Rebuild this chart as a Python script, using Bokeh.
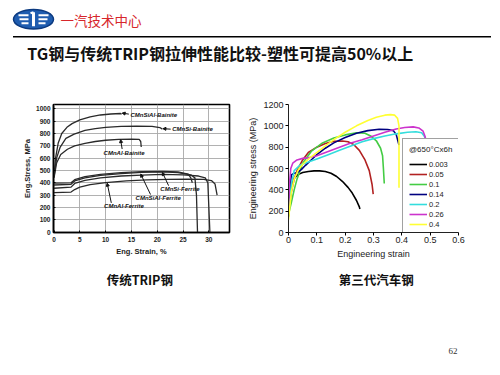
from bokeh.plotting import figure
from bokeh.layouts import column, row
from bokeh.models import Range1d, Legend, LegendItem, Arrow, NormalHead, Label, FixedTicker
from bokeh.embed import file_html
from bokeh.resources import INLINE

# ---------------- data: left chart (conventional TRIP steels) ----------------
sial_bain_x = [0, 0.3, 0.8, 1.5, 2.5, 3.5, 5, 7, 9, 11, 12.9, 13.1]
sial_bain_y = [450, 600, 720, 800, 850, 880, 910, 935, 950, 958, 962, 955]
si_bain_x = [0, 0.5, 1.2, 2.3, 3.9, 6, 8, 10, 13, 16, 19, 20.5, 21]
si_bain_y = [450, 600, 690, 760, 795, 825, 840, 850, 858, 860, 858, 848, 835]
al_bain_x = [0, 0.5, 1.3, 2.6, 4, 6, 8, 10, 12.5, 15, 16.5, 16.8, 16.9]
al_bain_y = [440, 560, 630, 672, 700, 720, 735, 745, 752, 755, 752, 735, 690]
si_fer_x = [0, 3.3, 4, 6, 9, 13, 17, 21, 24, 26, 26.5, 26.8]
si_fer_y = [397, 400, 425, 450, 468, 482, 490, 492, 488, 470, 440, 400]
sial_fer_x = [0, 3.3, 4, 6, 9, 13, 17, 21, 24, 26.5, 27.3, 27.6, 27.8]
sial_fer_y = [382, 388, 415, 440, 460, 475, 484, 488, 483, 465, 440, 300, 0]
mid_fer_x = [0, 3.3, 4, 6, 9, 13, 17, 21, 25, 28, 29.3, 29.8, 30.2]
mid_fer_y = [356, 365, 395, 420, 440, 455, 463, 468, 465, 455, 440, 400, 0]
al_fer_x = [0, 3.3, 4, 5, 7, 10, 14, 18, 22, 26, 29, 30.5, 31.2, 31.6]
al_fer_y = [321, 325, 345, 365, 385, 402, 415, 423, 428, 430, 427, 418, 390, 300]
left_series = [(sial_bain_x, sial_bain_y), (si_bain_x, si_bain_y), (al_bain_x, al_bain_y),
               (si_fer_x, si_fer_y), (sial_fer_x, sial_fer_y), (mid_fer_x, mid_fer_y),
               (al_fer_x, al_fer_y)]
left_xticks = [0, 5, 10, 15, 20, 25, 30]
left_yticks = [0, 100, 200, 300, 400, 500, 600, 700, 800, 900, 1000]

# ---------------- data: right chart (3rd generation steel) ----------------
labels = ["0.003", "0.05", "0.1", "0.14", "0.2", "0.26", "0.4"]
colors = ["#000000", "#b22222", "#44cc44", "#000080", "#33dddd", "#cc33cc", "#ffff33"]
c003_x = [0, 0.005, 0.01, 0.02, 0.035, 0.05, 0.07, 0.09, 0.11, 0.13, 0.15, 0.17, 0.19, 0.21, 0.225, 0.24, 0.25, 0.252]
c003_y = [150, 320, 440, 510, 545, 562, 572, 578, 578, 572, 555, 525, 480, 423, 370, 300, 240, 220]
c005_x = [0, 0.005, 0.01, 0.02, 0.03, 0.05, 0.07, 0.1, 0.13, 0.16, 0.19, 0.21, 0.23, 0.25, 0.27, 0.285, 0.295, 0.299]
c005_y = [180, 280, 380, 500, 580, 680, 750, 800, 835, 855, 858, 850, 825, 770, 680, 580, 450, 360]
c01_x = [0, 0.01, 0.02, 0.03, 0.05, 0.08, 0.12, 0.16, 0.2, 0.24, 0.27, 0.29, 0.31, 0.325, 0.332, 0.335, 0.338]
c01_y = [170, 280, 400, 500, 650, 760, 840, 885, 915, 935, 930, 905, 860, 790, 720, 600, 460]
c014_x = [0, 0.005, 0.01, 0.02, 0.03, 0.045, 0.06, 0.08, 0.1, 0.13, 0.16, 0.2, 0.24, 0.28, 0.32, 0.35, 0.37, 0.38, 0.39]
c014_y = [180, 400, 540, 555, 560, 590, 630, 680, 730, 790, 840, 890, 930, 955, 968, 965, 955, 920, 820]
c02_x = [0, 0.005, 0.01, 0.02, 0.04, 0.07, 0.1, 0.14, 0.18, 0.22, 0.26, 0.3, 0.34, 0.38, 0.42, 0.45, 0.47, 0.48, 0.485]
c02_y = [150, 300, 450, 580, 630, 660, 690, 730, 770, 810, 850, 880, 905, 925, 940, 945, 935, 900, 860]
c026_x = [0, 0.003, 0.008, 0.015, 0.03, 0.05, 0.07, 0.1, 0.14, 0.18, 0.22, 0.26, 0.3, 0.34, 0.38, 0.41, 0.44, 0.46, 0.475, 0.482, 0.485]
c026_y = [170, 450, 600, 650, 680, 695, 700, 720, 760, 800, 840, 870, 905, 940, 970, 985, 990, 980, 950, 900, 860]
c04_x = [0, 0.005, 0.01, 0.02, 0.035, 0.05, 0.08, 0.12, 0.16, 0.2, 0.24, 0.28, 0.31, 0.34, 0.36, 0.375, 0.385, 0.39, 0.39]
c04_y = [120, 250, 380, 500, 590, 640, 710, 790, 870, 940, 1000, 1050, 1080, 1100, 1105, 1100, 1070, 1000, 420]
right_series = [(c003_x, c003_y), (c005_x, c005_y), (c01_x, c01_y), (c014_x, c014_y),
                (c02_x, c02_y), (c026_x, c026_y), (c04_x, c04_y)]
right_xticks = [0, 0.1, 0.2, 0.3, 0.4, 0.5, 0.6]
right_yticks = [0, 200, 400, 600, 800, 1000, 1200]

SANS = "Liberation Sans"
CJK = "Noto Sans CJK SC"


def blank(w, h):
    f = figure(width=w, height=h, x_range=Range1d(0, w), y_range=Range1d(h, 0),
               output_backend="svg", toolbar_location=None, min_border=0,
               x_axis_location=None, y_axis_location=None)
    f.grid.visible = False
    f.outline_line_color = None
    f.background_fill_color = "white"
    f.border_fill_color = "white"
    return f


# ---------------- header (500 x 88) ----------------
hdr = blank(500, 88)
cx, cy = 33, 18.8
hdr.ellipse(x=[cx], y=[cy], width=40, height=19.5, fill_color="#1f5db0",
            line_color="#0c3a80", line_width=1.5)
hdr.segment(x0=[cx - 15, cx - 14, cx - 12, cx + 5, cx + 5, cx + 5],
            y0=[cy - 4, cy, cy + 4, cy - 4, cy, cy + 4],
            x1=[cx - 5, cx - 5, cx - 5, cx + 15, cx + 14, cx + 12],
            y1=[cy - 4, cy, cy + 4, cy - 4, cy, cy + 4],
            line_color="white", line_width=2)
hdr.segment(x0=[cx], y0=[cy - 7], x1=[cx], y1=[cy + 7], line_color="white", line_width=3)
hdr.segment(x0=[cx - 3], y0=[cy - 6], x1=[cx], y1=[cy - 7], line_color="white", line_width=2)
hdr.add_layout(Label(x=60, y=19.5, text="一汽技术中心", text_font=CJK, text_font_size="13.5px",
                     text_color="#d7262b", text_baseline="middle"))
hdr.segment(x0=[12.5], y0=[36.3], x1=[490.5], y1=[36.3], line_color="black", line_width=1.5)
hdr.add_layout(Label(x=26.7, y=52.5, text="TG钢与传统TRIP钢拉伸性能比较-塑性可提高50%以上",
                     text_font=CJK, text_font_size="16px", text_font_style="bold",
                     text_color="#111111", text_baseline="middle"))

# ---------------- left chart (245 x 176) ----------------
lp = figure(width=245, height=176, x_range=Range1d(-0.1, 34), y_range=Range1d(-3, 1035),
            output_backend="svg", toolbar_location=None,
            min_border_left=53, min_border_right=16, min_border_top=9, min_border_bottom=31)
lp.background_fill_color = "white"
lp.border_fill_color = "white"
lp.outline_line_color = "black"
lp.outline_line_width = 1.6
lp.xaxis.ticker = FixedTicker(ticks=left_xticks)
lp.yaxis.ticker = FixedTicker(ticks=left_yticks)
lp.grid.grid_line_color = "#a8a8a8"
lp.grid.grid_line_width = 0.9
for ax in (lp.xaxis[0], lp.yaxis[0]):
    ax.axis_line_color = "black"
    ax.axis_line_width = 1.5
    ax.major_tick_in = 2
    ax.major_tick_out = 0
    ax.minor_tick_line_color = None
    ax.major_label_text_font = SANS
    ax.major_label_text_font_size = "6.5px"
    ax.major_label_text_font_style = "bold"
    ax.major_label_text_color = "#222222"
    ax.axis_label_text_font = SANS
    ax.axis_label_text_font_size = "7.5px"
    ax.axis_label_text_font_style = "bold"
    ax.axis_label_text_color = "#222222"
lp.xaxis.axis_label = "Eng. Strain, %"
lp.yaxis.axis_label = "Eng.Stress, MPa"
lp.xaxis.major_label_standoff = 4
lp.xaxis.axis_label_standoff = 2
lp.yaxis.major_label_standoff = 3
lp.yaxis.axis_label_standoff = 1
for xs, ys in left_series:
    lp.line(xs, ys, line_color="#2a2a2a", line_width=1.3)

ann_font = dict(text_font=SANS, text_font_size="6px", text_font_style="bold italic",
                text_color="#111111", text_baseline="middle")
lp.add_layout(Label(x=14.8, y=949, text="CMnSiAl-Bainite", **ann_font))
lp.add_layout(Label(x=22.9, y=835, text="CMnSi-Bainite", **ann_font))
lp.add_layout(Label(x=9.6, y=644, text="CMnAl-Bainite", **ann_font))
lp.add_layout(Label(x=20.6, y=351, text="CMnSi-Ferrite", **ann_font))
lp.add_layout(Label(x=15.8, y=275, text="CMnSiAl-Ferrite", **ann_font))
lp.add_layout(Label(x=9.7, y=211, text="CMnAl-Ferrite", **ann_font))
for (x0, y0, x1, y1) in [(14.5, 957, 13.2, 965), (22.6, 835, 21.1, 839), (13.2, 674, 12.9, 750),
                         (22.2, 377, 21.0, 484), (18.7, 305, 16.8, 471), (11.1, 237, 10.3, 397)]:
    lp.add_layout(Arrow(x_start=x0, y_start=y0, x_end=x1, y_end=y1, line_color="#111111",
                        line_width=1, end=NormalHead(size=3, fill_color="#111111",
                                                     line_color="#111111")))

# ---------------- right chart (255 x 176) ----------------
rp = figure(width=255, height=176, x_range=Range1d(0, 0.6), y_range=Range1d(0, 1200),
            output_backend="svg", toolbar_location=None,
            min_border_left=42, min_border_right=42, min_border_top=16, min_border_bottom=32)
rp.background_fill_color = "white"
rp.border_fill_color = "white"
rp.outline_line_color = None
rp.grid.visible = False
rp.xaxis.ticker = FixedTicker(ticks=right_xticks)
rp.yaxis.ticker = FixedTicker(ticks=right_yticks)
for ax in (rp.xaxis[0], rp.yaxis[0]):
    ax.axis_line_color = "#222222"
    ax.axis_line_width = 1
    ax.major_tick_in = 0
    ax.major_tick_out = 3
    ax.minor_tick_line_color = None
    ax.major_label_text_font = SANS
    ax.major_label_text_font_size = "9px"
    ax.major_label_text_color = "#222222"
    ax.axis_label_text_font = SANS
    ax.axis_label_text_font_size = "9px"
    ax.axis_label_text_font_style = "normal"
    ax.axis_label_text_color = "#222222"
rp.xaxis.axis_label = "Engineering strain"
rp.yaxis.axis_label = "Engineering stress (MPa)"
rp.xaxis.major_label_standoff = 1
rp.xaxis.axis_label_standoff = 3
rp.yaxis.major_label_standoff = 2
rp.yaxis.axis_label_standoff = 2

items = []
for (xs, ys), lab, col in zip(right_series, labels, colors):
    r = rp.line(xs, ys, line_color=col, line_width=1.6)
    items.append(LegendItem(label=lab, renderers=[r]))

leg = Legend(items=items, title="@650°Cx6h", location=(114, -4),
             label_text_font=SANS, label_text_font_size="7.5px", label_text_color="#222222",
             title_text_font=SANS, title_text_font_size="8px", title_text_font_style="normal",
             title_text_color="#222222", title_standoff=5,
             glyph_width=18, glyph_height=10, label_height=10, label_standoff=2,
             spacing=0, padding=6, margin=0,
             border_line_color="#444444", border_line_width=1,
             background_fill_color="white", background_fill_alpha=1)
rp.add_layout(leg)

# ---------------- footer (500 x 111) ----------------
ftr = blank(500, 111)
ftr.add_layout(Label(x=139.3, y=15, text="传统TRIP钢", text_font=CJK, text_font_size="12.5px",
                     text_font_style="bold", text_color="#111111",
                     text_align="center", text_baseline="middle"))
ftr.add_layout(Label(x=375.7, y=15, text="第三代汽车钢", text_font=CJK, text_font_size="12.5px",
                     text_font_style="bold", text_color="#111111",
                     text_align="center", text_baseline="middle"))
ftr.add_layout(Label(x=452.5, y=86.7, text="62", text_font="Liberation Serif",
                     text_font_size="9px", text_color="#333333",
                     text_align="center", text_baseline="middle"))

layout = column(hdr, row(lp, rp, spacing=0), ftr, spacing=0)
open("out.html", "w").write(file_html(layout, INLINE))
